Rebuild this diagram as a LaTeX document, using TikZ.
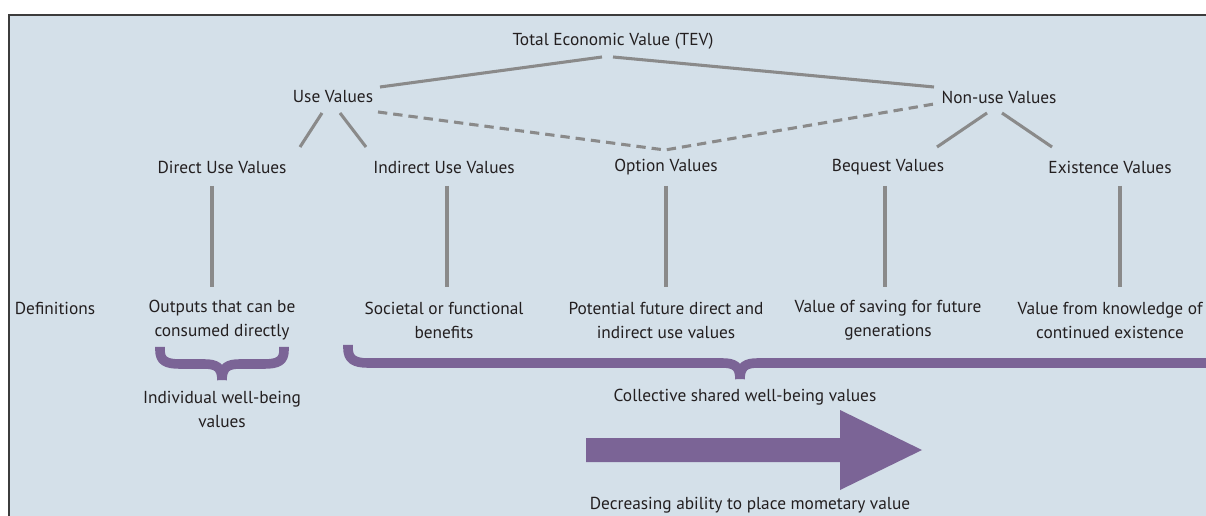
\documentclass[tikz,border=0pt]{standalone}
\usepackage{fontspec}
\setmainfont{PT Sans}
\usetikzlibrary{calc}
\definecolor{panel}{HTML}{D4E0E9}
\definecolor{frame}{HTML}{3C3C3C}
\definecolor{conn}{HTML}{8A8A8A}
\definecolor{purp}{HTML}{7B6496}
\definecolor{txt}{HTML}{231F20}
\begin{document}
\begin{tikzpicture}[x=0.75pt,y=-0.75pt,
  lbl/.style={inner sep=0pt,text=txt,font=\fontsize{13pt}{18pt}\selectfont,align=center},
  conline/.style={draw=conn,line width=2.3pt},
  dline/.style={draw=conn,line width=2.3pt,dash pattern=on 7pt off 4.5pt},
  bracepath/.style={draw=purp,line width=7.2pt,line cap=butt,line join=round},
]
\useasboundingbox (0,0) rectangle (1206,516);
\fill[white] (0,0) rectangle (1206,516);
\fill[panel] (9,15) rectangle (1210,520);
\draw[frame,line width=1.3pt] (9,520) -- (9,15) -- (1210,15);

% level 1
\node[lbl] (tev) at (613,41) {Total Economic Value (TEV)};
% level 2
\node[lbl] (use) at (333,97) {Use Values};
\node[lbl] (non) at (999,97) {Non-use Values};
% level 3
\node[lbl] (dir) at (222,167) {Direct Use Values};
\node[lbl] (ind) at (444,167) {Indirect Use Values};
\node[lbl] (opt) at (666,167) {Option Values};
\node[lbl] (beq) at (888,167) {Bequest Values};
\node[lbl] (exi) at (1110,167) {Existence Values};
% definitions
\node[lbl] (defs) at (55,308) {Definitions};
\node[lbl] (ddir) at (222,320) {Outputs that can be\\consumed directly};
\node[lbl] (dind) at (444,320) {Societal or functional\\benefits};
\node[lbl] (dopt) at (666,320) {Potential future direct and\\indirect use values};
\node[lbl] (dbeq) at (888,320) {Value of saving for future\\generations};
\node[lbl] (dexi) at (1110,320) {Value from knowledge of\\continued existence};
% bottom labels
\node[lbl] (indiv) at (222,409) {Individual well-being\\values};
\node[lbl] (coll) at (745,397) {Collective shared well-being values};
\node[lbl] (decr) at (750,505) {Decreasing ability to place mometary value};

% TEV to use / non-use
\draw[conline] ($(tev.center)+(-11,16)$) -- ($(use.center)+(47,-10)$);
\draw[conline] ($(tev.center)+(0,16)$) -- ($(non.center)+(-65,-10)$);
% dashed option links
\draw[dline] ($(use.center)+(45,15)$) -- ($(opt.center)+(-1,-17)$) -- ($(non.center)+(-65,7)$);
% use children
\draw[conline] ($(use.center)+(-11,16)$) -- ($(dir.center)+(78,-20)$);
\draw[conline] ($(use.center)+(7,16)$) -- ($(ind.center)+(-78,-20)$);
% non-use children
\draw[conline] ($(non.center)+(-12,16)$) -- ($(beq.center)+(49,-20)$);
\draw[conline] ($(non.center)+(3,16)$) -- ($(exi.center)+(-58,-20)$);
% verticals
\draw[conline] ($(dir.center)+(-10,19)$) -- ($(ddir.center)+(-10,-33)$);
\draw[conline] ($(ind.center)+(3,19)$) -- ($(dind.center)+(3,-33)$);
\draw[conline] ($(opt.center)+(0,19)$) -- ($(dopt.center)+(0,-33)$);
\draw[conline] ($(beq.center)+(-3,19)$) -- ($(dbeq.center)+(-3,-33)$);
\draw[conline] ($(exi.center)+(10,19)$) -- ($(dexi.center)+(10,-33)$);

% small brace
\draw[bracepath] (160,347) -- (160,350) .. controls (160,361) and (166,364) .. (180,364)
  -- (204,364) .. controls (216,364) and (222,367) .. (222,380);
\draw[bracepath] (284,347) -- (284,350) .. controls (284,361) and (278,364) .. (264,364)
  -- (240,364) .. controls (228,364) and (222,367) .. (222,380);
% big brace
\draw[bracepath] (348,345) -- (348,348) .. controls (348,359) and (354,363) .. (368,363)
  -- (722,363) .. controls (734,363) and (740,366) .. (740,379);
\draw[bracepath] (1212,363) -- (758,363) .. controls (746,363) and (740,366) .. (740,379);

% arrow
\fill[purp] (586,438) -- (840,438) -- (840,410) -- (922,450) -- (840,490) -- (840,462) -- (586,462) -- cycle;
\end{tikzpicture}
\end{document}
